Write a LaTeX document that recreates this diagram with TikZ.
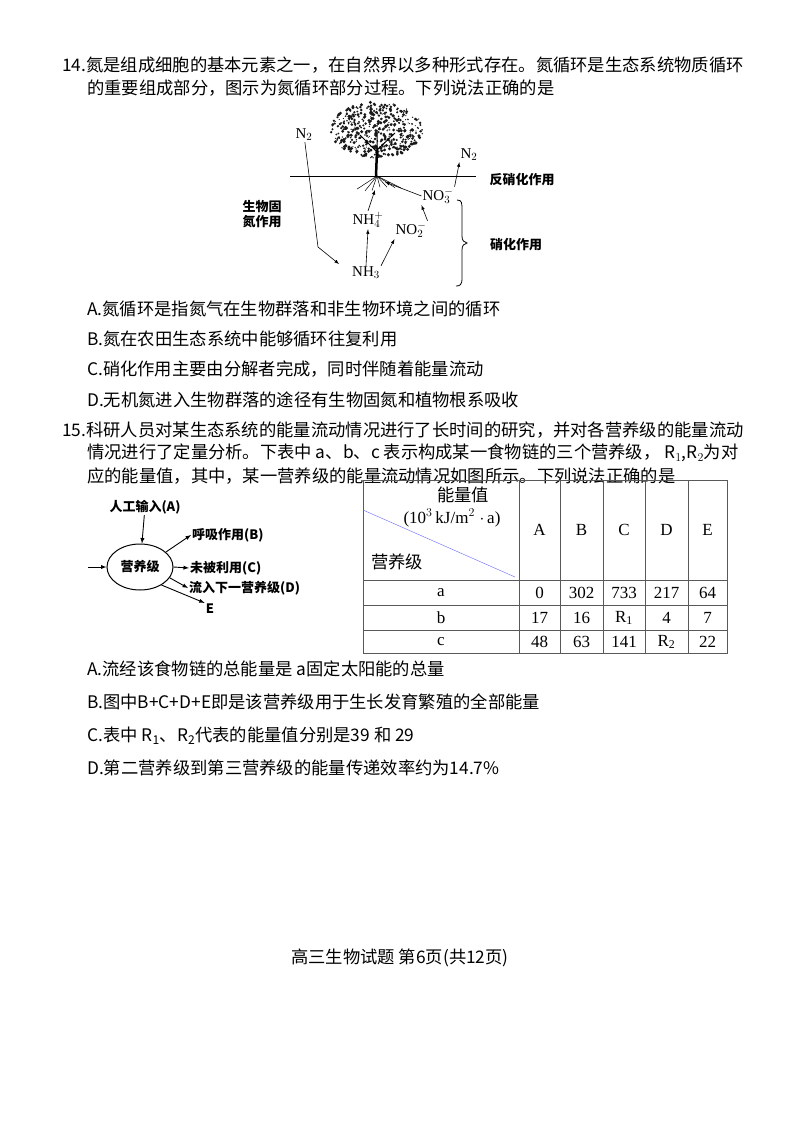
\documentclass[tikz,border=0pt]{standalone}
\usepackage{fontspec}
\usetikzlibrary{shapes.geometric}
\setmainfont{Liberation Serif}
\newfontfamily\cjk{Noto Sans CJK SC}
\begin{document}
\begin{tikzpicture}[x=1pt,y=-1pt,
  txt/.style={anchor=west,inner sep=0pt,font=\fontsize{17.3}{19}\cjk},
  lbl/.style={inner sep=1pt,font=\fontsize{13}{15}\cjk\bfseries},
  chem/.style={inner sep=1pt,font=\fontsize{15}{17}\selectfont},
  arr/.style={-latex,line width=0.9pt},
  cell/.style={font=\fontsize{17}{19}\selectfont}]
\useasboundingbox (0,0) rectangle (800,1132);
% question 14
\node[txt] (l1) at (62,65) {14.氮是组成细胞的基本元素之一，在自然界以多种形式存在。氮循环是生态系统物质循环};
\node[txt] (l2) at (87,88) {的重要组成部分，图示为氮循环部分过程。下列说法正确的是};
% nitrogen figure
\draw[line width=1pt] (290,176) -- (476,176);
\pgfmathsetseed{7}
\foreach \i in {1,...,500}{
  \pgfmathsetmacro{\a}{rnd*360}\pgfmathsetmacro{\r}{sqrt(rnd)}
  \fill[black!90] ({377+46*\r*cos(\a)},{130+28*\r*sin(\a)}) circle ({0.5+1.3*rnd});}
\draw[line width=2.5pt] (376,176) -- (377,150);
\draw[line width=1pt] (377,152) -- (360,135) (377,150) -- (395,133) (377,155) -- (377,130);
\foreach \d in {-20,-12,-5,3,10,18,24}{\draw[line width=0.5pt] (377,176) -- (377+\d,{186+rnd*5});}
\node[chem] (n2a) at (304,135) {N$_2$};
\node[chem] (n2b) at (469,155) {N$_2$};
\node[chem] (no3) at (438,196) {NO$_3^-$};
\node[chem] (nh4) at (368,220) {NH$_4^+$};
\node[chem] (no2) at (411,230) {NO$_2^-$};
\node[chem] (nh3) at (366,273) {NH$_3$};
\node[lbl] (fx) at (522,180) {反硝化作用};
\node[lbl,align=center] (sw) at (262,214) {生物固\\氮作用};
\node[lbl] (xh) at (516,245) {硝化作用};
\coordinate (root) at (385,182);
\draw[-latex,line width=0.6pt] (n2a) -- (318,247) -- (339,264);
\draw[-latex,line width=0.6pt] (nh3.north) -- (nh4.south);
\draw[-latex,line width=0.6pt] (nh3.north east) -- (no2.south west);
\draw[-latex,line width=0.6pt] (no2.north east) -- (no3.south west);
\draw[-latex,line width=0.6pt] (no3.north east) -- (n2b.south west);
\draw[-latex,line width=0.6pt] (no3.west) -- (root);
\draw[-latex,line width=0.6pt] (nh4.north) -- (375,190);
\draw[line width=0.8pt] (457,200) .. controls (462,200) and (462,203) .. (462,210) -- (462,236) .. controls (462,241) and (464,242) .. (467,243) .. controls (464,244) and (462,245) .. (462,250) -- (462,278) .. controls (462,285) and (460,286) .. (456,286);
% options 14
\node[txt] (o1) at (87,309) {A.氮循环是指氮气在生物群落和非生物环境之间的循环};
\node[txt] (o2) at (87,339) {B.氮在农田生态系统中能够循环往复利用};
\node[txt] (o3) at (87,369) {C.硝化作用主要由分解者完成，同时伴随着能量流动};
\node[txt] (o4) at (87,400) {D.无机氮进入生物群落的途径有生物固氮和植物根系吸收};
% question 15
\node[txt] (m1) at (62,430) {15.科研人员对某生态系统的能量流动情况进行了长时间的研究，并对各营养级的能量流动};
\node[txt] (m2) at (87,453) {情况进行了定量分析。下表中 a、b、c 表示构成某一食物链的三个营养级， \textit{R}$_1$,\textit{R}$_2$为对};
\node[txt] (m3) at (87,476) {应的能量值，其中，某一营养级的能量流动情况如图所示。下列说法正确的是};
% energy figure
\node[draw,ellipse,line width=1pt,minimum width=66pt,minimum height=46pt,lbl] (yy) at (140,567) {营养级};
\node[lbl] (A) at (145,507) {人工输入(A)};
\node[lbl,anchor=west] (B) at (191,535) {呼吸作用(B)};
\node[lbl,anchor=west] (C) at (189,568) {未被利用(C)};
\node[lbl,anchor=west] (D) at (188,588) {流入下一营养级(D)};
\node[lbl] (E) at (210,609) {E};
\coordinate (in) at (88,567);
\draw[arr] (A) -- (yy);
\draw[arr] (in) -- (yy);
\draw[arr] (yy.30) -- (B.west);
\draw[arr] (yy.east) -- (C.west);
\draw[arr] (yy.-20) -- (D.west);
\draw[arr] (yy.-40) -- (E.north west);
% table
\draw[line width=0.5pt,gray!70!black] (363,480) rectangle (727,653);
\foreach \x in {519,560,603,645,688}{\draw[gray!70!black] (\x,480) -- (\x,653);}
\foreach \y in {580,605,630}{\draw[gray!70!black] (363,\y) -- (727,\y);}
\draw[blue!60!white] (363,510) -- (515,577);
\node[txt,anchor=center] (h1) at (463,495) {能量值};
\node[cell] (h2) at (452,518) {(10$^3$\,kJ/m$^2$\;$\cdot$\,a)};
\node[txt] (h3) at (371,562) {营养级};
\foreach \t/\x in {A/539.5,B/581.5,C/624,D/666.5,E/707.5}{\node[cell] (c\t) at (\x,530) {\t};}
\node[cell] (ra) at (441,593) {a};
\node[cell] (rb) at (441,618) {b};
\node[cell] (rc) at (441,642) {c};
\foreach \v/\x in {0/539.5,302/581.5,733/624,217/666.5,64/707.5}{\node[cell] at (\x,593) {\v};}
\foreach \v/\x in {17/539.5,16/581.5,R\textsubscript{1}/624,4/666.5,7/707.5}{\node[cell] at (\x,618) {\v};}
\foreach \v/\x in {48/539.5,63/581.5,141/624,R\textsubscript{2}/666.5,22/707.5}{\node[cell] at (\x,642) {\v};}
% options 15
\node[txt] (p1) at (87,669) {A.流经该食物链的总能量是 a固定太阳能的总量};
\node[txt] (p2) at (87,702) {B.图中B+C+D+E即是该营养级用于生长发育繁殖的全部能量};
\node[txt] (p3) at (87,736) {C.表中 R\textsubscript{1}、R\textsubscript{2}代表的能量值分别是39 和 29};
\node[txt] (p4) at (87,768) {D.第二营养级到第三营养级的能量传递效率约为14.7\%};
\node[txt,anchor=center] (ft) at (400,958) {高三生物试题 第6页(共12页)};
\end{tikzpicture}
\end{document}
